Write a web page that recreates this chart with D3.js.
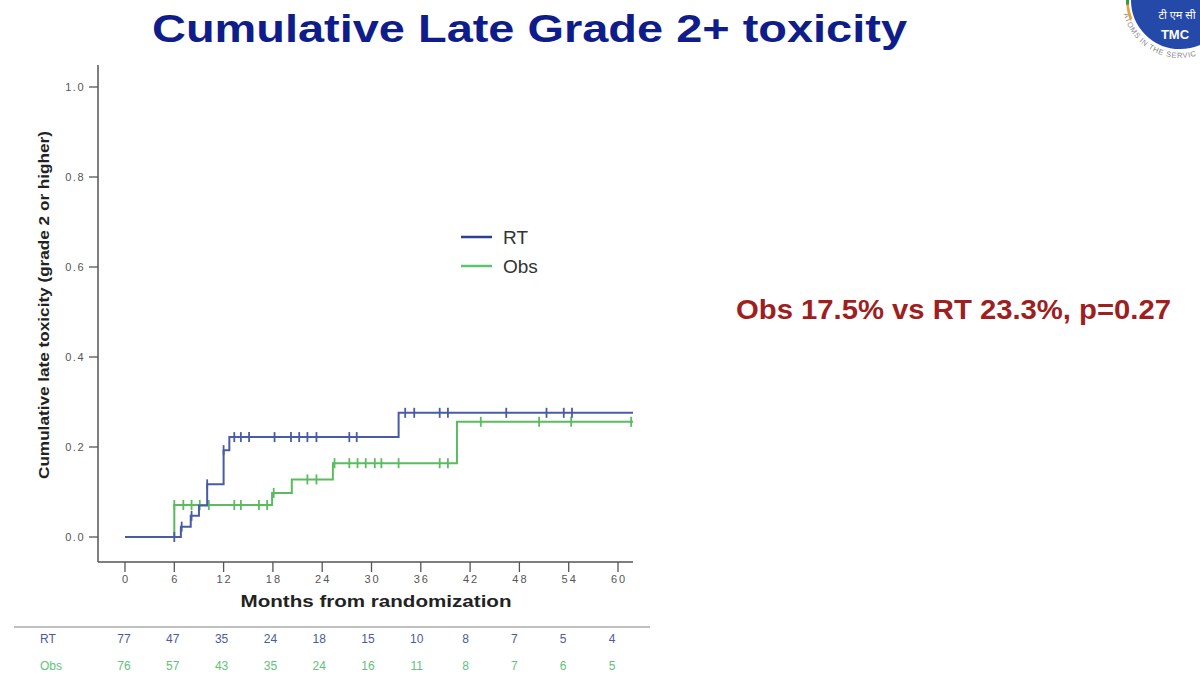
<!DOCTYPE html>
<html>
<head>
<meta charset="utf-8">
<script src="https://cdn.jsdelivr.net/npm/d3@7"></script>
<style>
  body { margin: 0; background: #fff; }
  svg { display: block; font-family: "Liberation Sans", Arial, sans-serif; }
</style>
</head>
<body>
<div id="chart"></div>
<script>
// step points (month, cumulative incidence)
const rtSteps  = [[0, 0], [6.8, 0.023], [8, 0.047], [9, 0.07], [10, 0.117], [12, 0.193], [12.7, 0.222], [33.3, 0.276]];
const obsSteps = [[0, 0], [6, 0.071], [17.9, 0.098], [20.3, 0.128], [25.3, 0.164], [40.4, 0.256]];

// censoring times (months)
const rtCensor  = [6, 6.9, 8.1, 10, 12, 13.3, 14.1, 15.1, 18.2, 20.2, 21.2, 22.2, 23.3, 27.3, 28.2,
                   34.1, 35.2, 38.3, 39.3, 46.4, 51.3, 53.4, 54.4];
const obsCensor = [6, 7.1, 8.1, 9.1, 10.2, 13.3, 14.1, 16.3, 17.3, 18.1, 22.2, 23.3, 25.5, 27.3, 28.3,
                   29.3, 30.4, 31.2, 33.3, 38.3, 39.3, 43.3, 50.4, 54.3, 61.6];

const xTicks = [0, 6, 12, 18, 24, 30, 36, 42, 48, 54, 60];
const yTicks = [0, 0.2, 0.4, 0.6, 0.8, 1.0];

// numbers at risk
const riskMonths = [0, 6, 12, 18, 24, 30, 36, 42, 48, 54, 60];
const rtRisk  = [77, 47, 35, 24, 18, 15, 10, 8, 7, 5, 4];
const obsRisk = [76, 57, 43, 35, 24, 16, 11, 8, 7, 6, 5];

const series = [
  { name: "RT",  steps: rtSteps,  censor: rtCensor,  color: "#4a5ba6", legend: "#2d3f93", table: "#4d5a9c", risk: rtRisk },
  { name: "Obs", steps: obsSteps, censor: obsCensor, color: "#5bbb5f", legend: "#5cc46e", table: "#62c27a", risk: obsRisk }
];

const W = 1200, H = 677;
const svg = d3.select("#chart").append("svg").attr("width", W).attr("height", H);

const x = d3.scaleLinear().domain([0, 60]).range([125, 618]);
const y = d3.scaleLinear().domain([0, 1]).range([537, 87]);
const xEnd = x.invert(633);
const axisColor = "#555";

// title
svg.append("text")
  .attr("x", 152).attr("y", 42)
  .attr("textLength", 755).attr("lengthAdjust", "spacingAndGlyphs")
  .style("font-size", "38px").style("font-weight", "bold")
  .attr("fill", "#0f1d8a")
  .text("Cumulative Late Grade 2+ toxicity");

// logo (top right corner)
const logo = svg.append("g");
const ra = 58;
logo.append("path")
  .attr("id", "ringPath")
  .attr("fill", "none")
  .attr("d", "M" + (1180 - ra) + ",0 A" + ra + "," + ra + " 0 0,0 " +
        (1180 + ra * Math.cos(1.3)) + "," + (ra * Math.sin(1.3)));
logo.append("text")
  .style("font-size", "7.5px").attr("fill", "#8a8a8a").attr("letter-spacing", "0.6px")
  .append("textPath").attr("href", "#ringPath").attr("startOffset", "14")
  .text("ATOMS IN THE SERVICE OF");
logo.append("path")
  .attr("transform", "translate(1180,0)")
  .attr("d", d3.arc()({ innerRadius: 51, outerRadius: 54, startAngle: -Math.PI * 0.62, endAngle: -Math.PI * 0.53 }))
  .attr("fill", "#e8a33a");
logo.append("path")
  .attr("transform", "translate(1180,0)")
  .attr("d", d3.arc()({ innerRadius: 51, outerRadius: 54, startAngle: -Math.PI * 0.53, endAngle: -Math.PI * 0.5 }))
  .attr("fill", "#3a9a3a");
logo.append("circle").attr("cx", 1180).attr("cy", 0).attr("r", 50)
  .attr("fill", "#2549a8").attr("stroke", "#fff").attr("stroke-width", 2);
logo.append("text").attr("x", 1177).attr("y", 19).attr("text-anchor", "middle")
  .style("font-size", "11px").attr("fill", "#fff")
  .style("font-family", "'Noto Sans Devanagari','Noto Sans','DejaVu Sans',sans-serif")
  .text("टी एम सी");
logo.append("text").attr("x", 1175).attr("y", 39).attr("text-anchor", "middle")
  .style("font-size", "13px").style("font-weight", "bold").attr("fill", "#fff")
  .text("TMC");

// axes
const plot = svg.append("g");
plot.append("line").attr("x1", 98).attr("x2", 98).attr("y1", 65).attr("y2", 562)
  .attr("stroke", axisColor).attr("stroke-width", 1.5);
plot.append("line").attr("x1", 98).attr("x2", 633).attr("y1", 562).attr("y2", 562)
  .attr("stroke", axisColor).attr("stroke-width", 1.5);

plot.selectAll(".ytick").data(yTicks).enter().append("line")
  .attr("x1", 89).attr("x2", 98)
  .attr("y1", d => y(d)).attr("y2", d => y(d))
  .attr("stroke", axisColor).attr("stroke-width", 1.3);
plot.selectAll(".ylab").data(yTicks).enter().append("text")
  .attr("x", 85).attr("y", d => y(d) + 4)
  .attr("text-anchor", "end").attr("letter-spacing", "1.5px")
  .style("font-size", "11px").attr("fill", "#555")
  .text(d => d3.format(".1f")(d));

plot.selectAll(".xtick").data(xTicks).enter().append("line")
  .attr("x1", d => x(d)).attr("x2", d => x(d))
  .attr("y1", 562).attr("y2", 572)
  .attr("stroke", axisColor).attr("stroke-width", 1.3);
plot.selectAll(".xlab").data(xTicks).enter().append("text")
  .attr("x", d => x(d) + 1).attr("y", 583)
  .attr("text-anchor", "middle").attr("letter-spacing", "2px")
  .style("font-size", "11px").attr("fill", "#555")
  .text(d => d);

// axis titles
plot.append("text")
  .attr("x", 376).attr("y", 607).attr("text-anchor", "middle")
  .attr("textLength", 271).attr("lengthAdjust", "spacingAndGlyphs")
  .style("font-size", "16px").style("font-weight", "bold").attr("fill", "#222")
  .text("Months from randomization");
plot.append("text")
  .attr("transform", "translate(49,305) rotate(-90)")
  .attr("text-anchor", "middle")
  .attr("textLength", 348).attr("lengthAdjust", "spacingAndGlyphs")
  .style("font-size", "14px").style("font-weight", "bold").attr("fill", "#222")
  .text("Cumulative late toxicity (grade 2 or higher)");

// curves
const line = d3.line().curve(d3.curveStepAfter).x(d => x(d[0])).y(d => y(d[1]));
function valueAt(steps, t) {
  let v = 0;
  steps.forEach(s => { if (s[0] <= t) v = s[1]; });
  return v;
}

// draw Obs first, RT on top
[series[1], series[0]].forEach(s => {
  const pts = s.steps.concat([[xEnd, s.steps[s.steps.length - 1][1]]]);
  plot.append("path")
    .attr("d", line(pts))
    .attr("fill", "none")
    .attr("stroke", s.color)
    .attr("stroke-width", 2);
  plot.selectAll(null).data(s.censor).enter().append("line")
    .attr("x1", d => x(d)).attr("x2", d => x(d))
    .attr("y1", d => y(valueAt(s.steps, d)) - 5)
    .attr("y2", d => y(valueAt(s.steps, d)) + 5)
    .attr("stroke", s.color).attr("stroke-width", 1.8);
});

// legend
series.forEach((s, i) => {
  const ly = 237 + i * 29;
  svg.append("line").attr("x1", 461).attr("x2", 492).attr("y1", ly).attr("y2", ly)
    .attr("stroke", s.legend).attr("stroke-width", 2.5);
  svg.append("text").attr("x", 503).attr("y", ly + 7)
    .style("font-size", "19px").attr("fill", "#333")
    .text(s.name);
});

// annotation
svg.append("text")
  .attr("x", 736).attr("y", 319)
  .attr("textLength", 435).attr("lengthAdjust", "spacingAndGlyphs")
  .style("font-size", "27px").style("font-weight", "bold")
  .attr("fill", "#9e1f1f")
  .text("Obs 17.5% vs RT 23.3%, p=0.27");

// numbers at risk table
const tx = d3.scaleLinear().domain([0, 60]).range([124, 612]);
svg.append("line").attr("x1", 14).attr("x2", 650).attr("y1", 627).attr("y2", 627)
  .attr("stroke", "#aaa").attr("stroke-width", 1.5);
series.forEach((s, i) => {
  const ry = 643 + i * 27;
  svg.append("text").attr("x", 40).attr("y", ry)
    .style("font-size", "12px").attr("fill", s.table)
    .text(s.name);
  svg.selectAll(null).data(riskMonths).enter().append("text")
    .attr("x", d => tx(d)).attr("y", ry)
    .attr("text-anchor", "middle")
    .style("font-size", "12px").attr("fill", s.table)
    .text((d, j) => s.risk[j]);
});
</script>
</body>
</html>
